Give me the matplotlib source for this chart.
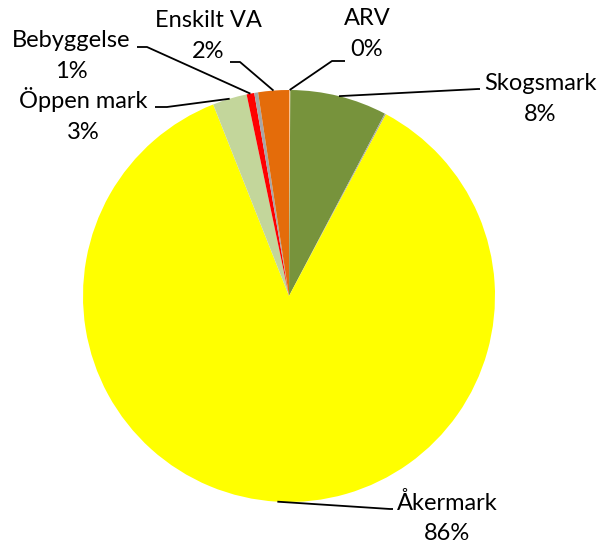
import numpy as np
import matplotlib.pyplot as plt

# land use shares (%), clockwise from 12 o'clock
names = ['ARV', 'Skogsmark', '', 'Åkermark', 'Öppen mark', 'Bebyggelse', '', 'Enskilt VA']
values = [0.1, 7.6, 0.1, 86.2, 2.7, 0.6, 0.3, 2.4]
colors = ['#FAC090', '#77933C', '#A6A6A6', '#FFFF00', '#C3D69B', '#FF0000', '#A6A6A6', '#E46C0A']

# label centre and leader elbow/end, in pixels of the 603x545 image
label_px = {'ARV': (367, 34), 'Skogsmark': (540, 99), 'Åkermark': (447, 518),
            'Öppen mark': (83, 115), 'Bebyggelse': (71, 56), 'Enskilt VA': (208, 36)}
leader_px = {'ARV': [(332, 61), (345, 61)], 'Skogsmark': [(478, 89), (480, 89)],
             'Åkermark': [(390, 509), (393, 509)], 'Öppen mark': [(167, 107), (155, 107)],
             'Bebyggelse': [(147, 47), (137, 47)], 'Enskilt VA': [(240, 62), (230, 62)]}

W, H = 603, 545
cx, cy, R = 289, 296, 206


def px(p):
    return ((p[0] - cx) / R, (cy - p[1]) / R)


fig = plt.figure(figsize=(W / 100, H / 100), dpi=100)
ax = fig.add_axes([0, 0, 1, 1])
wedges, _ = ax.pie(values, colors=colors, startangle=90, counterclock=False,
                   radius=1, center=(0, 0), wedgeprops=dict(linewidth=0))
ax.set_xlim(-cx / R, (W - cx) / R)
ax.set_ylim(-(H - cy) / R, cy / R)
ax.set_aspect('equal')
ax.axis('off')

total = sum(values)
for w, name, v in zip(wedges, names, values):
    if not name:
        continue
    mid = np.deg2rad((w.theta1 + w.theta2) / 2)
    start = (np.cos(mid), np.sin(mid))
    pts = [start] + [px(p) for p in leader_px[name]]
    ax.plot([p[0] for p in pts], [p[1] for p in pts], color='black', lw=1.3,
            solid_capstyle='butt')
    tx, ty = px(label_px[name])
    ax.text(tx, ty, f"{name}\n{round(v / total * 100)}%", ha='center', va='center',
            fontsize=17, family='Lato', linespacing=1.55, color='black')

fig.savefig('out.png', dpi=100)
